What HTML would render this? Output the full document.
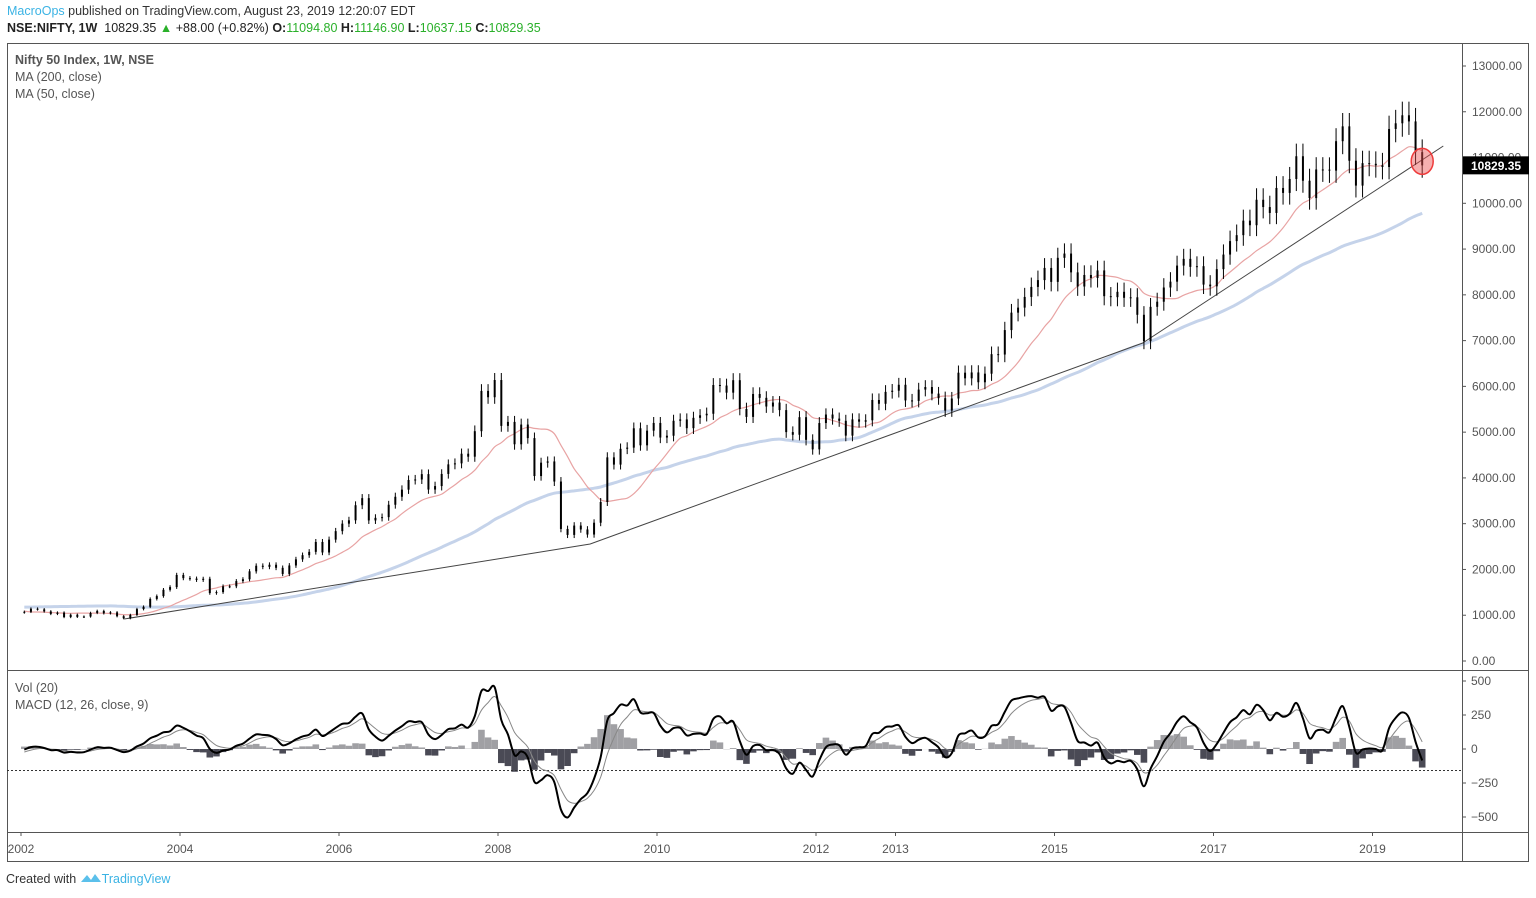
<!DOCTYPE html>
<html><head><meta charset="utf-8"><style>
body{margin:0;background:#fff;width:1536px;height:898px;overflow:hidden;font-family:"Liberation Sans",sans-serif}
.t{position:absolute;white-space:nowrap}
</style></head><body>
<div class="t" style="left:7px;top:4px;font-size:12.5px;color:#333"><span style="color:#3bb3e4">MacroOps</span> published on TradingView.com, August 23, 2019 12:20:07 EDT</div>
<div class="t" style="left:7px;top:21px;font-size:12.5px;color:#222"><b>NSE:NIFTY, 1W</b>&nbsp; 10829.35 <span style="color:#2ab02a">▲</span> +88.00 (+0.82%) <b>O:</b><span style="color:#2ab02a">11094.80</span> <b>H:</b><span style="color:#2ab02a">11146.90</span> <b>L:</b><span style="color:#2ab02a">10637.15</span> <b>C:</b><span style="color:#2ab02a">10829.35</span></div>
<svg id="c" width="1536" height="898" style="position:absolute;left:0;top:0" xmlns="http://www.w3.org/2000/svg" font-family="Liberation Sans, sans-serif"></svg>
<div class="t" style="left:6px;top:872px;font-size:12.5px;color:#333">Created with <span style="color:#3bb3e4"><svg width="22" height="12" viewBox="0 0 22 12" style="vertical-align:-1px"><path d="M1 10 L7 3 L11 8 L15 2 L21 10 Z" fill="#5bc0eb"/></svg>TradingView</span></div>
<script>
const pre=[1100,1100,1100,1100,1000,900,950,900,950,850,850,880,950,980,1080,990,1120,1190,1300,1380,1400,1350,1400,1480,1550,1650,1530,1400,1380,1470,1330,1400,1270,1170,1270,1260,1370,1350,1150,1120,1150,1100,1070,1050,910,970,1070,1060];
const closes=[1075,1142,1129,1084,1028,1058,960,1011,964,971,1050,1094,
1042,1063,978,934,1007,1134,1185,1356,1418,1556,1615,1880,
1810,1800,1772,1796,1484,1505,1632,1632,1746,1786,1959,2081,
2057,2103,2036,1902,2087,2221,2312,2385,2601,2371,2652,2837,
3001,3074,3403,3558,3071,3128,3143,3414,3588,3744,3955,3966,
4083,3746,3822,4087,4296,4318,4529,4464,5021,5901,5763,6139,
5137,5224,4735,5166,4870,4041,4333,4360,3921,2885,2755,2959,
2874,2763,3021,3474,4449,4291,4636,4662,5084,4712,5033,5201,
4882,4922,5249,5278,5087,5313,5368,5402,6030,6018,5863,6135,
5506,5333,5834,5750,5560,5647,5482,5001,4943,5327,4832,4624,
5199,5385,5296,5248,4924,5279,5229,5259,5703,5620,5880,5905,
6035,5693,5683,5930,5986,5842,5742,5471,5735,6299,6176,6304,
6090,6277,6704,6696,7230,7611,7721,7954,8173,8322,8588,8283,
8809,8902,8491,8182,8434,8369,8533,7971,7949,8066,7935,7946,
7564,6987,7738,7850,8160,8288,8639,8786,8611,8626,8224,8186,
8561,8880,9174,9304,9621,9521,10077,9918,9789,10335,10227,10531,
11028,10493,10114,10739,10736,10714,11357,11681,10930,10387,10877,10863,
10831,10793,11624,11748,11923,11789,11118,10829];
const priceTicks=[13000,12000,11000,10000,9000,8000,7000,6000,5000,4000,3000,2000,1000,0];
const macdTicks=[500,250,0,-250,-500];
const macdTickLabels=["500","250","0","\u2212250","\u2212500"];
const yearTicks=[2002,2004,2006,2008,2010,2012,2013,2015,2017,2019];
const trendT=[2003.30,2009.16,2016.11,2019.89];
const trendP=[918,2556,6948,11252];
const lastPrice=10829.35;

const svg=document.getElementById('c');
const NS="http://www.w3.org/2000/svg";
function mk(tag,attrs,parent){const e=document.createElementNS(NS,tag);for(const k in attrs)e.setAttribute(k,attrs[k]);(parent||svg).appendChild(e);return e;}
const X=t=>21+(t-2002)*79.5;
const Y=p=>661-p*0.04577;
const MY=v=>749-v*0.136;
const tOf=i=>2002+(i+0.5)/12;
const all=pre.concat(closes);const off=pre.length;

let g=mk('g',{});
mk('rect',{x:7.5,y:43.5,width:1521,height:818,fill:'none',stroke:'#555'},g);
mk('line',{x1:7,y1:670.5,x2:1529,y2:670.5,stroke:'#555'},g);
mk('line',{x1:7,y1:832.5,x2:1529,y2:832.5,stroke:'#555'},g);
mk('line',{x1:1462.5,y1:43,x2:1462.5,y2:862,stroke:'#555'},g);

const pa=mk('g',{});
priceTicks.forEach(p=>{const y=Y(p);mk('line',{x1:1462,y1:y,x2:1466,y2:y,stroke:'#555'},pa);
const tx=mk('text',{x:1472,y:y+4,'font-size':12,fill:'#555'},pa);tx.textContent=p.toFixed(2);
});
const ma=mk('g',{});
macdTicks.forEach((v,i)=>{const y=MY(v);mk('line',{x1:1462,y1:y,x2:1466,y2:y,stroke:'#555'},ma);
const tx=mk('text',{x:1471,y:y+4,'font-size':12,fill:'#555'},ma);tx.textContent=macdTickLabels[i];
});
const ta=mk('g',{});
yearTicks.forEach(yr=>{const x=X(yr);mk('line',{x1:x,y1:832,x2:x,y2:836,stroke:'#555'},ta);
const tx=mk('text',{x:x,y:853,'font-size':12,fill:'#555','text-anchor':'middle'},ta);tx.textContent=yr;
});

function sma(n){return closes.map((_,j)=>{let s=0;for(let k=0;k<n;k++)s+=all[j+off-k];return s/n;});}
function line(vals,yf,attrs,name){
 const P=vals.map((v,i)=>[X(tOf(i)),yf(v)]);
 let d='M'+P[0][0].toFixed(1)+' '+P[0][1].toFixed(1);
 for(let i=0;i<P.length-1;i++){const p0=P[Math.max(0,i-1)],p1=P[i],p2=P[i+1],p3=P[Math.min(P.length-1,i+2)];
  const c1=[p1[0]+(p2[0]-p0[0])/6,p1[1]+(p2[1]-p0[1])/6],c2=[p2[0]-(p3[0]-p1[0])/6,p2[1]-(p3[1]-p1[1])/6];
  d+=' C'+c1[0].toFixed(1)+' '+c1[1].toFixed(1)+' '+c2[0].toFixed(1)+' '+c2[1].toFixed(1)+' '+p2[0].toFixed(1)+' '+p2[1].toFixed(1);}
 const p=mk('path',Object.assign({d:d,fill:'none'},attrs));return p;}
line(sma(46),Y,{stroke:'#c5d3ea','stroke-width':3},'ma-200-line');
line(sma(12),Y,{stroke:'#e8a3a3','stroke-width':1.2},'ma-50-line');

{const d=trendT.map((t,i)=>(i?'L':'M')+X(t).toFixed(1)+' '+Y(trendP[i]).toFixed(1)).join(' ');
const p=mk('path',{d:d,fill:'none',stroke:'#444','stroke-width':1});}

const cg=mk('g',{});
closes.forEach((c,i)=>{const o=i?closes[i-1]:all[off-1];const hi=Math.max(o,c)*1.025,lo=Math.min(o,c)*0.975;
const x=X(tOf(i));const b=mk('line',{x1:x,y1:Y(hi),x2:x,y2:Y(lo),stroke:'#000','stroke-width':1},cg);

const r=mk('rect',{x:x-1,y:Y(Math.max(o,c)),width:2,height:Math.max(1,Math.abs(Y(o)-Y(c))),fill:'#000'},cg);
});

{const lt=tOf(closes.length-1);const e=mk('ellipse',{cx:X(lt),cy:Y(lastPrice)-4,rx:11,ry:13,fill:'rgba(235,80,80,0.45)',stroke:'#ee3b3b','stroke-width':1.5});
}

{const y=Y(lastPrice);const r=mk('rect',{x:1463,y:y-9,width:66,height:18,fill:'#000'});
const t=mk('text',{x:1471,y:y+4.5,'font-size':12,fill:'#fff','font-weight':'bold'});t.textContent=lastPrice.toFixed(2);
}

const a1=0.45,a2=0.25,a3=0.4;let e1=all[0],e2=all[0],sg=0;const macd=[],sig=[];
all.forEach((v,k)=>{e1+=a1*(v-e1);e2+=a2*(v-e2);const m=e1-e2;sg+=a3*(m-sg);if(k>=off){macd.push(m);sig.push(sg);}});
const hg=mk('g',{});
macd.forEach((m,i)=>{const h=m-sig[i];const x=X(tOf(i));const y0=MY(0),y1=MY(h);
const r=mk('rect',{x:x-3.3,y:Math.min(y0,y1),width:6.6,height:Math.abs(y1-y0),fill:h>=0?'#a0a0a4':'#4a4a55'},hg);
});
{const l=mk('line',{x1:7,y1:770.5,x2:1462,y2:770.5,stroke:'#333','stroke-dasharray':'2,2'});}
line(sig,MY,{stroke:'#888','stroke-width':1},'macd-signal-line');
line(macd,MY,{stroke:'#000','stroke-width':2},'macd-line');

function lbl(x,y,s,name,bold){const t=mk('text',{x:x,y:y,'font-size':12.5,fill:'#555','font-weight':bold?'bold':'normal'});t.textContent=s;}
lbl(15,64,'Nifty 50 Index, 1W, NSE','series-title',true);
lbl(15,81,'MA (200, close)','ma-200-legend');
lbl(15,98,'MA (50, close)','ma-50-legend');
lbl(15,692,'Vol (20)','vol-legend');
lbl(15,709,'MACD (12, 26, close, 9)','macd-legend');
</script>
</body></html>
